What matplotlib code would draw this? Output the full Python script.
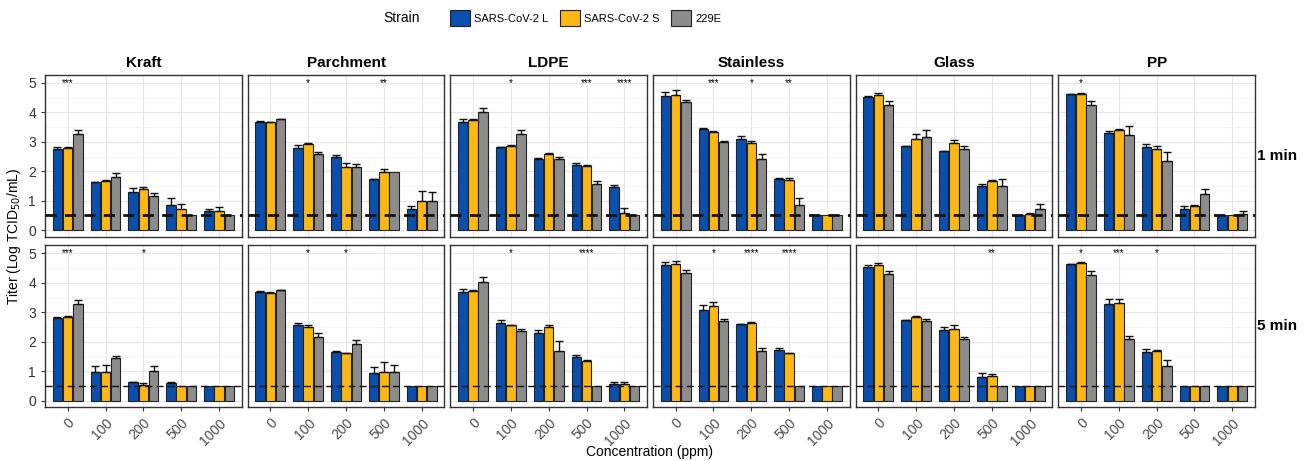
import matplotlib
matplotlib.use("Agg")
import matplotlib.pyplot as plt
import numpy as np
from matplotlib.patches import Patch
from matplotlib.ticker import MultipleLocator

plt.rcParams["font.family"] = ["Liberation Sans", "DejaVu Sans"]

# concentration groups and strains
concentrations = ["0", "100", "200", "500", "1000"]
strains = ["SARS-CoV-2 L", "SARS-CoV-2 S", "229E"]
materials = ["Kraft", "Parchment", "LDPE", "Stainless", "Glass", "PP"]
times = ["1 min", "5 min"]

# mean log titers, rows = strains (L, S, 229E)
kraft_1 = [[2.76, 1.63, 1.31, 0.85, 0.65], [2.79, 1.67, 1.40, 0.72, 0.66], [3.26, 1.82, 1.16, 0.50, 0.50]]
kraft_1_sd = [[0.05, 0.02, 0.11, 0.23, 0.06], [0.03, 0.02, 0.08, 0.16, 0.11], [0.15, 0.11, 0.09, 0, 0]]
parchment_1 = [[3.68, 2.80, 2.49, 1.72, 0.73], [3.66, 2.94, 2.15, 1.99, 0.98], [3.76, 2.58, 2.15, 1.99, 0.98]]
parchment_1_sd = [[0.02, 0.09, 0.05, 0.01, 0.09], [0.01, 0.02, 0.12, 0.08, 0.34], [0.01, 0.09, 0.08, 0, 0.30]]
ldpe_1 = [[3.67, 2.82, 2.43, 2.22, 1.48], [3.74, 2.86, 2.60, 2.18, 0.59], [4.01, 3.25, 2.41, 1.56, 0.50]]
ldpe_1_sd = [[0.10, 0.02, 0.03, 0.05, 0.05], [0.03, 0.02, 0.02, 0.04, 0.17], [0.15, 0.16, 0.09, 0.12, 0]]
stainless_1 = [[4.57, 3.42, 3.09, 1.74, 0.50], [4.60, 3.35, 2.97, 1.69, 0.50], [4.35, 3.01, 2.41, 0.85, 0.50]]
stainless_1_sd = [[0.13, 0.04, 0.10, 0.02, 0], [0.15, 0.03, 0.05, 0.09, 0], [0.08, 0.01, 0.17, 0.24, 0]]
glass_1 = [[4.52, 2.86, 2.69, 1.50, 0.50], [4.58, 3.09, 2.95, 1.67, 0.53], [4.26, 3.16, 2.74, 1.49, 0.70]]
glass_1_sd = [[0.03, 0.01, 0.01, 0.08, 0], [0.07, 0.18, 0.11, 0.03, 0.06], [0.14, 0.24, 0.12, 0.26, 0.18]]
pp_1 = [[4.61, 3.30, 2.83, 0.73, 0.50], [4.64, 3.41, 2.77, 0.82, 0.50], [4.26, 3.24, 2.34, 1.23, 0.55]]
pp_1_sd = [[0.03, 0.06, 0.08, 0.09, 0], [0.02, 0.01, 0.09, 0.04, 0], [0.14, 0.31, 0.33, 0.17, 0.11]]

kraft_5 = [[2.82, 0.96, 0.62, 0.59, 0.50], [2.84, 0.96, 0.54, 0.50, 0.50], [3.28, 1.44, 1.02, 0.50, 0.50]]
kraft_5_sd = [[0.02, 0.22, 0.02, 0.04, 0], [0.02, 0.24, 0.05, 0, 0], [0.14, 0.08, 0.16, 0, 0]]
parchment_5 = [[3.68, 2.55, 1.64, 0.93, 0.50], [3.67, 2.49, 1.62, 0.97, 0.50], [3.76, 2.17, 1.92, 0.96, 0.50]]
parchment_5_sd = [[0.03, 0.09, 0.03, 0.22, 0], [0.01, 0.08, 0.01, 0.33, 0], [0.01, 0.12, 0.12, 0.25, 0]]
ldpe_5 = [[3.70, 2.65, 2.29, 1.47, 0.57], [3.73, 2.57, 2.50, 1.36, 0.57], [4.02, 2.35, 1.67, 0.50, 0.50]]
ldpe_5_sd = [[0.09, 0.07, 0.11, 0.09, 0.06], [0.02, 0.01, 0.06, 0.03, 0.06], [0.17, 0.09, 0.34, 0, 0]]
stainless_5 = [[4.60, 3.08, 2.60, 1.72, 0.50], [4.63, 3.22, 2.64, 1.60, 0.50], [4.35, 2.69, 1.67, 0.50, 0.50]]
stainless_5_sd = [[0.10, 0.18, 0.01, 0.07, 0], [0.12, 0.13, 0.04, 0.03, 0], [0.07, 0.08, 0.11, 0, 0]]
glass_5 = [[4.54, 2.72, 2.41, 0.79, 0.50], [4.60, 2.83, 2.43, 0.85, 0.50], [4.29, 2.69, 2.09, 0.50, 0.50]]
glass_5_sd = [[0.06, 0.02, 0.08, 0.15, 0], [0.09, 0.03, 0.15, 0.04, 0], [0.12, 0.08, 0.08, 0, 0]]
pp_5 = [[4.64, 3.28, 1.66, 0.50, 0.50], [4.67, 3.30, 1.67, 0.50, 0.50], [4.28, 2.09, 1.19, 0.50, 0.50]]
pp_5_sd = [[0.01, 0.17, 0.08, 0, 0], [0.03, 0.15, 0.03, 0, 0], [0.13, 0.09, 0.19, 0, 0]]

# significance marks per concentration
stars_1 = [["***", "", "", "", ""], ["", "*", "", "**", ""], ["", "*", "", "***", "****"],
           ["", "***", "*", "**", ""], ["", "", "", "", ""], ["*", "", "", "", ""]]
stars_5 = [["***", "", "*", "", ""], ["", "*", "*", "", ""], ["", "*", "", "****", ""],
           ["", "*", "****", "****", ""], ["", "", "", "**", ""], ["*", "***", "*", "", ""]]

detection_limit = 0.5

means = [[kraft_1, parchment_1, ldpe_1, stainless_1, glass_1, pp_1],
         [kraft_5, parchment_5, ldpe_5, stainless_5, glass_5, pp_5]]
sds = [[kraft_1_sd, parchment_1_sd, ldpe_1_sd, stainless_1_sd, glass_1_sd, pp_1_sd],
       [kraft_5_sd, parchment_5_sd, ldpe_5_sd, stainless_5_sd, glass_5_sd, pp_5_sd]]
stars = [stars_1, stars_5]

colors = ["#0a4fad", "#fdb813", "#8c8c8c"]

W, H = 1309, 461
fig, axes = plt.subplots(2, 6, figsize=(W / 100, H / 100), dpi=100, sharey=True)
fig.subplots_adjust(left=45 / W, right=1255 / W, top=1 - 75 / H, bottom=1 - 407 / H,
                    wspace=0.03, hspace=0.055)

x = np.arange(len(concentrations))
slot = 0.27
for r in range(2):
    for c in range(6):
        ax = axes[r, c]
        for s in range(3):
            pos = x + (s - 1) * slot
            vals = np.array(means[r][c][s])
            errs = np.array(sds[r][c][s])
            ax.bar(pos, vals, width=slot - 0.02, color=colors[s], edgecolor="#222222",
                   linewidth=0.8, zorder=3)
            has = errs > 0
            ax.errorbar(pos[has], vals[has], yerr=[np.zeros(has.sum()), errs[has]],
                        fmt="none", ecolor="#111111", elinewidth=1, capsize=3,
                        capthick=1, zorder=4)
        lw = 2.0 if r == 0 else 1.0
        ax.axhline(detection_limit, color="#111111", linestyle=(0, (4, 3)) if r == 0 else (0, (5, 3)),
                   linewidth=lw, zorder=5)
        for i, mark in enumerate(stars[r][c]):
            if mark:
                ax.text(x[i], 5.0, mark, ha="center", va="center", fontsize=7, zorder=6)

        ax.set_xlim(-0.6, 4.6)
        ax.set_ylim(-0.22, 5.27)
        ax.yaxis.set_major_locator(MultipleLocator(1))
        ax.yaxis.set_minor_locator(MultipleLocator(0.5))
        ax.set_xticks(x)
        ax.grid(which="major", color="#e6e6e6", linewidth=0.8, zorder=0)
        ax.grid(which="minor", axis="y", color="#f2f2f2", linewidth=0.5, zorder=0)
        ax.set_axisbelow(True)
        for sp in ax.spines.values():
            sp.set_color("#333333")
            sp.set_linewidth(1.0)
        ax.tick_params(which="minor", length=0)
        ax.tick_params(axis="both", colors="#333333", labelsize=10, length=3)
        if c > 0:
            ax.tick_params(axis="y", length=0)
        if r == 0:
            ax.tick_params(axis="x", length=0, labelbottom=False)
            ax.set_title(materials[c], fontsize=11, fontweight="bold", pad=6)
        else:
            ax.set_xticklabels(concentrations, rotation=45, ha="right",
                               rotation_mode="anchor", color="#4d4d4d")
        if c == 5:
            ax.text(1.11, 0.5, times[r], transform=ax.transAxes, fontsize=11,
                    fontweight="bold", ha="center", va="center")

fig.text(14 / W, 0.5 - 6 / H, "Titer (Log TCID$_{50}$/mL)", rotation=90,
         ha="center", va="center", fontsize=10)
fig.text(650 / W, 1 - 452 / H, "Concentration (ppm)", ha="center", va="center", fontsize=10)

# legend across the top
fig.text(383 / W, 1 - 18 / H, "Strain", ha="left", va="center", fontsize=10)
handles = [Patch(facecolor=colors[s], edgecolor="#222222", linewidth=0.8) for s in range(3)]
fig.legend(handles, strains, loc="center left", bbox_to_anchor=(440 / W, 1 - 18 / H),
           ncol=3, frameon=False, fontsize=8, handlelength=1.8, handleheight=1.8,
           handletextpad=0.4, columnspacing=1.0)

fig.savefig("out.png", dpi=100)
